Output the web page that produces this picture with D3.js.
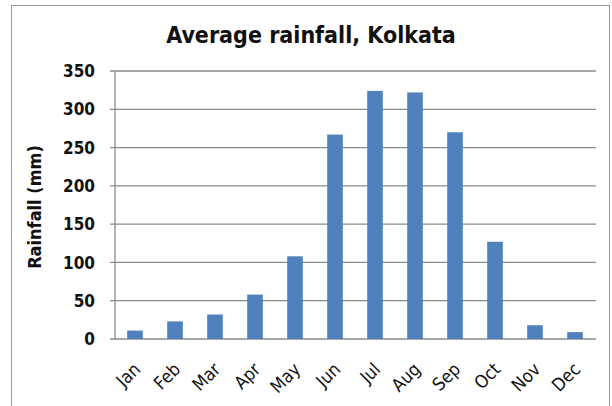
<!DOCTYPE html>
<html>
<head>
<meta charset="utf-8">
<script src="https://cdn.jsdelivr.net/npm/d3@7"></script>
<style>
  body { margin: 0; background: #fff; }
  svg { display: block; }
  text { font-family: 'DejaVu Sans Condensed', 'DejaVu Sans', sans-serif; fill: #111; }
</style>
</head>
<body>
<svg id="chart" width="612" height="406"></svg>
<script>
// Average rainfall, Kolkata

const months = ['Jan', 'Feb', 'Mar', 'Apr', 'May', 'Jun', 'Jul', 'Aug', 'Sep', 'Oct', 'Nov', 'Dec']
const rainfall = [11, 23, 32, 58, 108, 267, 324, 322, 270, 127, 18, 9]
const yTicks = [0, 50, 100, 150, 200, 250, 300, 350]

const svg = d3.select('#chart')
const margin = { left: 115, right: 16, top: 71, bottom: 67 }
const width = 612
const height = 406

// outer frame
svg.append('rect')
  .attr('x', 11.5)
  .attr('y', 5.5)
  .attr('width', 598)
  .attr('height', 410)
  .attr('fill', 'none')
  .attr('stroke', '#999')
  .attr('stroke-width', 1)

const x = d3.scaleBand()
  .domain(months)
  .range([margin.left, width - margin.right - 1])
  .paddingInner(0.61)
  .paddingOuter(0.305)

const y = d3.scaleLinear()
  .domain([0, 350])
  .range([height - margin.bottom, margin.top])

// gridlines
svg.append('g')
  .selectAll('line')
  .data(yTicks)
  .join('line')
  .attr('x1', margin.left - 5)
  .attr('x2', width - margin.right)
  .attr('y1', d => y(d))
  .attr('y2', d => y(d))
  .attr('stroke', '#8a8a8a')
  .attr('stroke-width', 1.3)

// y axis line
svg.append('line')
  .attr('x1', margin.left)
  .attr('x2', margin.left)
  .attr('y1', y(350))
  .attr('y2', y(0))
  .attr('stroke', '#8a8a8a')
  .attr('stroke-width', 1.3)

// y labels
svg.append('g')
  .selectAll('text')
  .data(yTicks)
  .join('text')
  .attr('x', margin.left - 20)
  .attr('y', d => y(d))
  .attr('dy', '0.36em')
  .attr('text-anchor', 'end')
  .attr('font-size', 17)
  .attr('font-weight', 'bold')
  .text(d => d)

// bars
svg.append('g')
  .selectAll('rect')
  .data(rainfall)
  .join('rect')
  .attr('x', (d, i) => x(months[i]))
  .attr('width', x.bandwidth())
  .attr('y', d => y(d))
  .attr('height', d => y(0) - y(d))
  .attr('fill', '#4f81bd')

// month labels
svg.append('g')
  .selectAll('text')
  .data(months)
  .join('text')
  .attr('transform', d => `translate(${x(d) + x.bandwidth() / 2 + 2},${y(0) + 27}) rotate(-45)`)
  .attr('text-anchor', 'end')
  .attr('dy', '0.35em')
  .attr('font-family', 'DejaVu Sans, sans-serif')
  .attr('font-size', 18)
  .text(d => d)

// axis title
svg.append('text')
  .attr('transform', `translate(41,${(y(0) + y(350)) / 2 + 2}) rotate(-90)`)
  .attr('text-anchor', 'middle')
  .attr('font-family', 'DejaVu Sans, sans-serif')
  .attr('font-size', 18)
  .attr('font-weight', 'bold')
  .text('Rainfall (mm)')

// chart title
svg.append('text')
  .attr('x', 311)
  .attr('y', 43)
  .attr('text-anchor', 'middle')
  .attr('font-size', 23)
  .attr('font-weight', 'bold')
  .text('Average rainfall, Kolkata')
</script>
</body>
</html>
